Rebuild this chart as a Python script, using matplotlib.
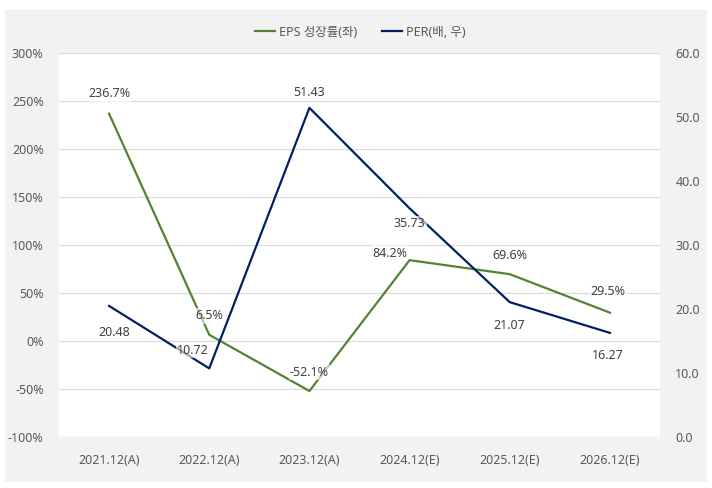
import matplotlib.pyplot as plt
from matplotlib.patches import Rectangle
from matplotlib.ticker import FuncFormatter

plt.rcParams['font.family'] = ['Noto Sans', 'Noto Sans CJK KR', 'DejaVu Sans']

# --- data ---
years = ["2021.12(A)", "2022.12(A)", "2023.12(A)", "2024.12(E)", "2025.12(E)", "2026.12(E)"]
eps_growth = [236.7, 6.5, -52.1, 84.2, 69.6, 29.5]
per = [20.48, 10.72, 51.43, 35.73, 21.07, 16.27]
eps_labels = ["236.7%", "6.5%", "-52.1%", "84.2%", "69.6%", "29.5%"]
per_labels = ["20.48", "10.72", "51.43", "35.73", "21.07", "16.27"]

# label offsets (pixels) from the point
eps_off = [(0, 20), (0, 19), (0, 19), (-20, 7), (0, 19), (-2, 21)]
per_off = [(5, -27), (-16, 18), (0, 15), (0, -15), (0, -23), (-2, -23)]

green = "#548235"
navy = "#002060"
txt = "#404040"
grid = "#d9d9d9"

fig = plt.figure(figsize=(7.12, 4.88), dpi=100)
fig.patch.set_facecolor("white")
fig.patches.append(Rectangle((5 / 712, 6 / 488), 702 / 712, 472 / 488,
                             transform=fig.transFigure, facecolor="#f2f2f2",
                             edgecolor="none", zorder=-5))

ax = fig.add_axes([59 / 712, 1 - 437 / 488, 601 / 712, 384 / 488])
ax.set_facecolor("white")
ax2 = ax.twinx()

x = range(len(years))
ax.plot(x, eps_growth, color=green, lw=1.6, label="EPS 성장률(좌)")
ax2.plot(x, per, color=navy, lw=1.6, label="PER(배, 우)")

ax.set_xlim(-0.5, len(years) - 0.5)
ax.set_ylim(-100, 300)
ax.set_yticks(range(-100, 301, 50))
ax.yaxis.set_major_formatter(FuncFormatter(lambda v, p: f"{v:.0f}%"))
ax2.set_ylim(0, 60)
ax2.set_yticks(range(0, 61, 10))
ax2.yaxis.set_major_formatter(FuncFormatter(lambda v, p: f"{v:.1f}"))
ax.set_xticks(list(x))
ax.set_xticklabels(years)

ax.grid(axis="y", color=grid, lw=0.8)
ax.set_axisbelow(True)
for a in (ax, ax2):
    for s in a.spines.values():
        s.set_visible(False)
    a.tick_params(length=0, labelsize=9, labelcolor="#595959")
ax.tick_params(axis="y", pad=11)
ax2.tick_params(axis="y", pad=11)
ax.tick_params(axis="x", pad=12)

box = dict(boxstyle="square,pad=0.1", facecolor="white", edgecolor="none", alpha=0.6)
for i in x:
    ax2.annotate(eps_labels[i], (i, eps_growth[i]), xycoords=ax.transData,
                 xytext=eps_off[i], textcoords="offset pixels",
                 ha="center", va="center", fontsize=9, color=txt, bbox=box)
    ax2.annotate(per_labels[i], (i, per[i]), xycoords=ax2.transData,
                 xytext=per_off[i], textcoords="offset pixels",
                 ha="center", va="center", fontsize=9, color=txt, bbox=box)

h1, l1 = ax.get_legend_handles_labels()
h2, l2 = ax2.get_legend_handles_labels()
fig.legend(h1 + h2, l1 + l2, loc="center", bbox_to_anchor=(360 / 712, 1 - 32 / 488),
           ncol=2, frameon=False, fontsize=9, handlelength=1.6, handletextpad=0.3,
           columnspacing=2.0, labelcolor="#595959")

fig.savefig("out.png", dpi=100)
